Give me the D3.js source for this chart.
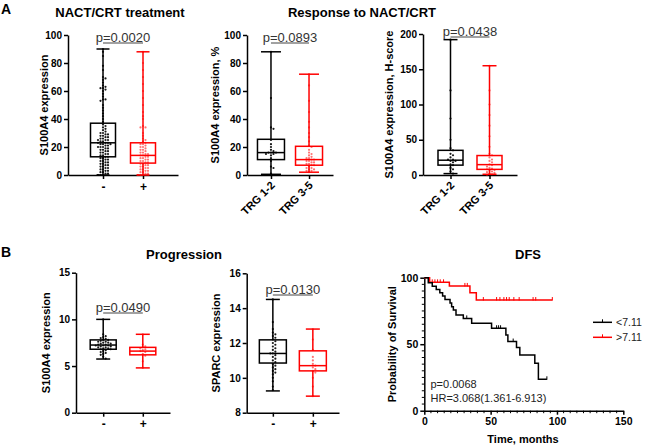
<!DOCTYPE html>
<html><head><meta charset="utf-8">
<script src="https://cdn.jsdelivr.net/npm/d3@7"></script>
<style>body{margin:0;background:#fff}svg{display:block;font-family:"Liberation Sans",Arial,sans-serif}</style>
</head><body><svg id="c" width="645" height="446"></svg>
<script>
// ---------- data ----------
const catsTreat = ["-", "+"];
const catsTRG = ["TRG 1-2", "TRG 3-5"];
const ticksPct = [0, 20, 40, 60, 80, 100];
const ticksH = [0, 50, 100, 150, 200];
const ticksB1 = [0, 5, 10, 15];
const ticksB2 = [8, 10, 12, 14, 16];

const a1Neg = [90,88,85,78,75,70,69,68,66,64,63,62,62,61,60,58,56,54,54,53,50,48,46,44,42,40,38,36,35,34,33,32,31,30,30,29,29,28,28,27,27,26,26,25,25,25,24,24,23,23,23,22,22,22,21,21,20,20,20,19,19,18,18,17,17,16,16,15,15,14,14,13,13,12,12,11,11,10,10,9,9,8,8,7,7,6,6,5,5,4,4,3,3,2,2,1,1,0,0,0];
const a1Pos = [88,80,75,70,65,60,55,50,45,42,40,35,34,34,30,28,26,25,24,23,22,22,21,20,20,19,18,18,17,16,16,15,15,14,14,13,13,12,12,11,11,10,10,9,9,8,8,7,7,6,6,5,5,4,4,3,3,2,2,1,1,0,0,0];
const a1NegBox = [0, 13, 23, 37, 90];
const a1PosBox = [0, 8.5, 14, 23, 88];

const a2Neg = [88,55,34,33,25,22,20,18,17,16,16,16,15,15,14,12,10,6,5,1,0];
const a2Pos = [72,64,53,45,38,34,30,27,24,21,20,18,16,15,14,13,12,12,11,11,10,10,9,9,8,8,7,7,6,5,5,4,4,3,3,2];
const a2NegBox = [0.5, 11, 16, 25.5, 88];
const a2PosBox = [2, 7, 11, 20.5, 72];

const a3Neg = [192,120,80,50,38,35,30,28,25,22,22,20,20,18,15,14,10,8,5,2];
const a3Pos = [155,120,100,85,70,55,40,30,28,25,22,20,18,15,14,12,10,9,8,7,6,5,4,3,2,1,0];
const a3NegBox = [2, 14, 21, 35, 192];
const a3PosBox = [1, 8, 14.7, 27.6, 155];

const b1Neg = [10,8.4,8.2,8.1,8.0,7.9,7.8,7.8,7.7,7.6,7.6,7.5,7.5,7.4,7.4,7.3,7.3,7.2,7.2,7.2,7.1,7.1,7.0,7.0,6.9,6.9,6.8,6.8,6.7,6.6,6.5,6.4,6.3,6.2,6.0,5.8];
const b1Pos = [8.4,7.3,7.1,7.0,6.9,6.8,6.7,6.6,6.5,6.3,6.1,5.5,4.8];
const b1NegBox = [5.75, 6.8, 7.25, 7.8, 10];
const b1PosBox = [4.8, 6.2, 6.6, 7.0, 8.4];

const b2Neg = [14.5,13.2,12.8,12.6,12.5,12.4,12.3,12.2,12.1,12.0,11.9,11.8,11.7,11.6,11.5,11.4,11.4,11.3,11.2,11.1,11.0,10.9,10.8,10.7,10.6,10.5,10.4,10.3,10.2,10.0,9.8,9.5,9.3];
const b2Pos = [12.8,12.2,11.6,11.2,11.0,10.8,10.7,10.6,10.5,10.4,10.3,10.0,9.5,8.95];
const b2NegBox = [9.25, 10.85, 11.4, 12.18, 14.5];
const b2PosBox = [8.95, 10.4, 10.7, 11.55, 12.8];

// Kaplan-Meier: [time, survival %] after each step
const kmLow = [[0,100],[3,96.2],[6,93.5],[9,91.2],[11.7,88.7],[13.8,86.2],[15.6,83.7],[19.4,80.9],[20.6,78.2],[21.9,75.7],[23.9,72],[29.4,69.4],[35.7,65.7],[50.7,62],[61.5,57],[63,52],[69.5,47.5],[72,41.9],[83.3,35.6],[86,23.6]];
const kmLowEnd = 92.4;
const kmLowCensor = [32, 54.5, 56, 57.5, 67, 92.4];
const kmHigh = [[0,100],[4,96.5],[18.9,93.8],[34.4,88.7],[39.2,83.2]];
const kmHighEnd = 96.5;
const kmHighCensor = [6, 8, 10, 12, 14.5, 30.6, 32.4, 44.5, 54.5, 57, 60, 62, 64, 67.5, 71.5, 82, 84, 96.5];
const kmTicksX = [0, 50, 100, 150];
const kmTicksY = [0, 50, 100];
const kmLegend = ["<7.11", ">7.11"];

// ---------- drawing ----------
const svg = d3.select("#c");
const RED = "#ff0000", BLK = "#000";

function styleAxis(g, fs) {
  g.select(".domain").attr("stroke", "#000").attr("stroke-width", 1.5);
  g.selectAll(".tick line").attr("stroke", "#000").attr("stroke-width", 1.5);
  g.selectAll(".tick text").attr("fill", "#000").attr("font-weight", "bold").attr("font-size", fs).attr("font-family", "Liberation Sans, Arial, sans-serif");
}

function swarm(vals, y, cx, maxOff, d) {
  const pts = vals.map(v => ({v, y: y(v)})).sort((a, b) => a.y - b.y);
  const placed = [];
  pts.forEach(p => {
    let best = null;
    outer:
    for (let k = 0; k * d <= maxOff; k++) {
      for (const s of (k === 0 ? [1] : [1, -1])) {
        const off = s * k * d;
        if (placed.every(q => (q.off - off) ** 2 + (q.y - p.y) ** 2 >= d * d * 0.95)) { best = off; break outer; }
      }
    }
    if (best === null) best = ((placed.length % 5) - 2) * d * 0.9;
    placed.push({y: p.y, off: best});
  });
  return placed.map(p => ({x: cx + p.off, y: p.y}));
}

function boxPanel(o) {
  const y = d3.scaleLinear().domain(o.domain).range([o.yBot, o.yTop]);
  const x = d3.scalePoint().domain(o.cats).range([o.x0, o.x1]).padding(o.pad);
  const ga = svg.append("g").attr("transform", `translate(${o.x0},0)`)
    .call(d3.axisLeft(y).tickValues(o.ticks).tickSize(4).tickSizeOuter(0).tickPadding(2));
  styleAxis(ga, 10);
  const gx = svg.append("g").attr("transform", `translate(0,${o.yBot})`)
    .call(d3.axisBottom(x).tickSize(4).tickSizeOuter(0).tickPadding(3));
  styleAxis(gx, 11);
  if (o.rotate) {
    gx.selectAll(".tick text").attr("text-anchor", "end").attr("dy", 0).attr("y", 0)
      .attr("transform", "translate(4,11) rotate(-45)");
  } else {
    gx.selectAll(".tick text").attr("font-size", 12);
  }
  const sets = [[o.negVals, o.negBox, BLK], [o.posVals, o.posBox, RED]];
  sets.forEach(([vals, b, col], i) => {
    const cx = x(o.cats[i]);
    const g = svg.append("g");
    const bw = o.boxW, cw = o.capW;
    g.append("line").attr("x1", cx).attr("x2", cx).attr("y1", y(b[0])).attr("y2", y(b[1])).attr("stroke", col).attr("stroke-width", 1.5);
    g.append("line").attr("x1", cx).attr("x2", cx).attr("y1", y(b[3])).attr("y2", y(b[4])).attr("stroke", col).attr("stroke-width", 1.5);
    [b[0], b[4]].forEach(v => g.append("line").attr("x1", cx - cw / 2).attr("x2", cx + cw / 2).attr("y1", y(v)).attr("y2", y(v)).attr("stroke", col).attr("stroke-width", 1.5));
    g.append("rect").attr("x", cx - bw / 2).attr("width", bw).attr("y", y(b[3])).attr("height", y(b[1]) - y(b[3]))
      .attr("fill", "none").attr("stroke", col).attr("stroke-width", 1.5);
    g.append("line").attr("x1", cx - bw / 2).attr("x2", cx + bw / 2).attr("y1", y(b[2])).attr("y2", y(b[2])).attr("stroke", col).attr("stroke-width", 1.5);
    const pts = swarm(vals, y, cx, bw / 2 - 2, 2.5);
    g.selectAll("circle.d").data(pts).join("circle").attr("cx", d => d.x).attr("cy", d => d.y).attr("r", 1.1)
      .attr("fill", col).attr("fill-opacity", i ? 0.55 : 0.9);
  });
  // p-value
  const xa = x(o.cats[0]), xb = x(o.cats[1]);
  svg.append("line").attr("x1", xa).attr("x2", xb).attr("y1", o.pY).attr("y2", o.pY).attr("stroke", "#444").attr("stroke-width", 1);
  svg.append("text").attr("x", (xa + xb) / 2).attr("y", o.pY - 1).attr("text-anchor", "middle")
    .attr("font-size", 13).attr("fill", "#333").text(o.pText);
  // y label
  svg.append("text").attr("transform", `translate(${o.ylabX},${(o.yTop + o.yBot) / 2}) rotate(-90)`)
    .attr("text-anchor", "middle").attr("font-size", 11).attr("font-weight", "bold").text(o.ylab);
}

boxPanel({x0: 68, x1: 178, pad: 0.875, yTop: 35, yBot: 175, domain: [0, 100], ticks: ticksPct, cats: catsTreat,
  negVals: a1Neg, posVals: a1Pos, negBox: a1NegBox, posBox: a1PosBox, boxW: 25, capW: 13,
  ylab: "S100A4 expression", ylabX: 48, pText: "p=0.0020", pY: 43});
boxPanel({x0: 247, x1: 333, pad: 0.63, yTop: 35, yBot: 175, domain: [0, 100], ticks: ticksPct, cats: catsTRG, rotate: true,
  negVals: a2Neg, posVals: a2Pos, negBox: a2NegBox, posBox: a2PosBox, boxW: 27, capW: 20,
  ylab: "S100A4 expression, %", ylabX: 219, pText: "p=0.0893", pY: 43});
boxPanel({x0: 423, x1: 517, pad: 0.705, yTop: 34, yBot: 175, domain: [0, 200], ticks: ticksH, cats: catsTRG, rotate: true,
  negVals: a3Neg, posVals: a3Pos, negBox: a3NegBox, posBox: a3PosBox, boxW: 25, capW: 14,
  ylab: "S100A4 expression, H-score", ylabX: 393, pText: "p=0.0438", pY: 37});
boxPanel({x0: 76, x1: 170, pad: 0.687, yTop: 272.7, yBot: 412.7, domain: [0, 15], ticks: ticksB1, cats: catsTreat,
  negVals: b1Neg, posVals: b1Pos, negBox: b1NegBox, posBox: b1PosBox, boxW: 26, capW: 14,
  ylab: "S100A4 expression", ylabX: 50, pText: "p=0.0490", pY: 313});
boxPanel({x0: 246.7, x1: 339, pad: 0.654, yTop: 273.3, yBot: 412.7, domain: [8, 16], ticks: ticksB2, cats: catsTreat,
  negVals: b2Neg, posVals: b2Pos, negBox: b2NegBox, posBox: b2PosBox, boxW: 27, capW: 14,
  ylab: "SPARC expression", ylabX: 220, pText: "p=0.0130", pY: 295});

// ---------- KM ----------
(function () {
  const x = d3.scaleLinear().domain([0, 150]).range([424.3, 623.3]);
  const y = d3.scaleLinear().domain([0, 100]).range([410.7, 277.7]);
  const gy = svg.append("g").attr("transform", `translate(${x(0)},0)`)
    .call(d3.axisLeft(y).tickValues(kmTicksY).tickSize(4).tickSizeOuter(0).tickPadding(2));
  styleAxis(gy, 10.5);
  const gx = svg.append("g").attr("transform", `translate(0,${y(0)})`)
    .call(d3.axisBottom(x).tickValues(kmTicksX).tickSize(4).tickSizeOuter(0).tickPadding(3));
  styleAxis(gx, 10.5);
  // minor ticks
  svg.append("g").selectAll("line").data(d3.range(5, 150, 5).filter(v => v % 50)).join("line")
    .attr("x1", d => x(d)).attr("x2", d => x(d)).attr("y1", y(0)).attr("y2", y(0) + 2.5).attr("stroke", "#000").attr("stroke-width", 1);
  svg.append("g").selectAll("line").data(d3.range(5, 100, 5).filter(v => v % 50)).join("line")
    .attr("x1", x(0) - 2.5).attr("x2", x(0)).attr("y1", d => y(d)).attr("y2", d => y(d)).attr("stroke", "#000").attr("stroke-width", 1);

  const line = d3.line().x(d => x(d[0])).y(d => y(d[1])).curve(d3.curveStepAfter);
  function survAt(steps, t) { let p = steps[0][1]; steps.forEach(s => { if (s[0] <= t) p = s[1]; }); return p; }
  [[kmHigh, kmHighEnd, kmHighCensor, RED], [kmLow, kmLowEnd, kmLowCensor, BLK]].forEach(([st, end, cen, col]) => {
    const pts = st.concat([[end, st[st.length - 1][1]]]);
    svg.append("path").attr("d", line(pts)).attr("fill", "none").attr("stroke", col).attr("stroke-width", 1.5);
    svg.append("g").selectAll("line").data(cen).join("line")
      .attr("x1", d => x(d)).attr("x2", d => x(d)).attr("y1", d => y(survAt(st, d)) - 3).attr("y2", d => y(survAt(st, d)) + 0.5)
      .attr("stroke", col).attr("stroke-width", 1);
  });
  // legend
  [[kmLegend[0], BLK, 322.3], [kmLegend[1], RED, 337.3]].forEach(([lab, col, ly]) => {
    svg.append("line").attr("x1", 593).attr("x2", 612).attr("y1", ly).attr("y2", ly).attr("stroke", col).attr("stroke-width", 1.5);
    svg.append("line").attr("x1", 602.5).attr("x2", 602.5).attr("y1", ly - 3).attr("y2", ly + 0.5).attr("stroke", col).attr("stroke-width", 1);
    svg.append("text").attr("x", 616).attr("y", ly + 4).attr("font-size", 10.5).attr("fill", "#222").text(lab);
  });
  svg.append("text").attr("x", 430.5).attr("y", 388.3).attr("font-size", 11).attr("fill", "#222").text("p=0.0068");
  svg.append("text").attr("x", 430.5).attr("y", 401.7).attr("font-size", 11).attr("fill", "#222").text("HR=3.068(1.361-6.913)");
  svg.append("text").attr("x", 523).attr("y", 442.5).attr("text-anchor", "middle").attr("font-size", 11).attr("font-weight", "bold").text("Time, months");
  svg.append("text").attr("transform", `translate(396,${(277.7 + 410.7) / 2}) rotate(-90)`).attr("text-anchor", "middle")
    .attr("font-size", 11).attr("font-weight", "bold").text("Probability of Survival");
})();

// titles and panel letters
const titles = [["NACT/CRT treatment", 120, 17], ["Response to NACT/CRT", 362, 17], ["Progression", 184, 259], ["DFS", 528, 259]];
titles.forEach(([t, tx, ty]) => svg.append("text").attr("x", tx).attr("y", ty).attr("text-anchor", "middle")
  .attr("font-size", 13).attr("font-weight", "bold").text(t));
svg.append("text").attr("x", 1).attr("y", 14).attr("font-size", 14).attr("font-weight", "bold").text("A");
svg.append("text").attr("x", 1).attr("y", 257).attr("font-size", 14).attr("font-weight", "bold").text("B");
</script></body></html>
